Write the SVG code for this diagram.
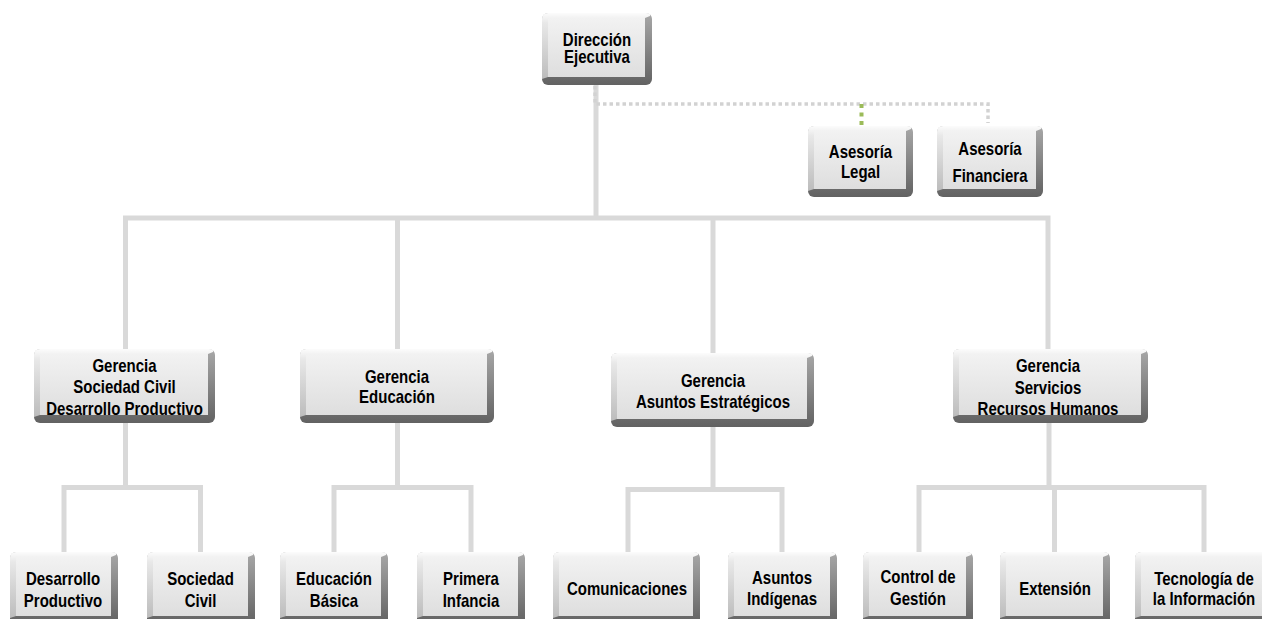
<svg xmlns="http://www.w3.org/2000/svg" width="1262" height="619" viewBox="0 0 1262 619">
  <defs>
    <linearGradient id="gBase" x1="0" y1="0" x2="0" y2="1">
      <stop offset="0" stop-color="#a8a8a8"/>
      <stop offset="1" stop-color="#626262"/>
    </linearGradient>
    <linearGradient id="gLight" x1="0" y1="0" x2="0" y2="1">
      <stop offset="0" stop-color="#fcfcfc"/>
      <stop offset="0.15" stop-color="#e8e8e8"/>
      <stop offset="1" stop-color="#bcbcbc"/>
    </linearGradient>
    <linearGradient id="gFace" x1="0" y1="0" x2="0" y2="1">
      <stop offset="0" stop-color="#f2f2f2"/>
      <stop offset="1" stop-color="#dedede"/>
    </linearGradient>
    <style>
      .base { fill: url(#gBase); }
      .lt { fill: url(#gLight); }
      .face { fill: url(#gFace); }
      .lbl { font-family: "Liberation Sans", Arial, sans-serif; font-weight: bold; font-size: 15px; fill: #000; text-anchor: middle; }
      .link { fill: none; stroke: #d9d9d9; stroke-width: 5; stroke-linejoin: miter; stroke-linecap: butt; }
      .dots { fill: none; stroke: #d2d2d2; stroke-width: 3.5; stroke-dasharray: 3.5 3; }
      .dots-green { fill: none; stroke: #9bbb59; stroke-width: 4; stroke-dasharray: 4 4.5; }
    </style>
  </defs>

  <rect width="1262" height="619" fill="#ffffff"/>

  <!-- connectors -->
  <g id="connectors">
    <path class="link" d="M596,85 V218"/>
    <path class="link" d="M125.5,349 V218 H1048 V349"/>
    <path class="link" d="M397.5,218 V349"/>
    <path class="link" d="M713,218 V353"/>
    <!-- Gerencia Sociedad Civil / Desarrollo Productivo -->
    <path class="link" d="M125.5,423 V487.5"/>
    <path class="link" d="M64,552 V487.5 H200.5 V552"/>
    <!-- Gerencia Educación -->
    <path class="link" d="M397.5,423 V487.5"/>
    <path class="link" d="M334,552 V487.5 H471 V552"/>
    <!-- Gerencia Asuntos Estratégicos -->
    <path class="link" d="M713,427 V489.5"/>
    <path class="link" d="M628,552 V489.5 H782 V552"/>
    <!-- Gerencia Servicios -->
    <path class="link" d="M1049,423 V487.5"/>
    <path class="link" d="M919,552 V487.5 H1204 V552"/>
    <path class="link" d="M1054.5,487.5 V552"/>
    <!-- advisory (staff) lines -->
    <path class="dots" d="M595,86 V104 H988 V123"/>
    <path class="dots-green" d="M861.5,104 V126"/>
  </g>

  <!-- Dirección Ejecutiva -->
  <g id="n-direccion" transform="translate(542 13)">
    <rect class="base" width="110" height="72" rx="6"/>
    <path class="lt" d="M0,66 V6 Q0,0 6,0 H104 Q109,0 108,3 L103,5 H6 V64 Z"/>
    <rect class="face" x="6" y="5" width="97" height="59"/>
    <text class="lbl" transform="matrix(1 0 0 1.22 55 32.7)">Dirección</text>
    <text class="lbl" transform="matrix(1 0 0 1.22 55 50.3)">Ejecutiva</text>
  </g>

  <!-- Asesoría Legal -->
  <g id="n-asesoria-legal" transform="translate(808 126)">
    <rect class="base" width="105" height="71" rx="6"/>
    <path class="lt" d="M0,65 V6 Q0,0 6,0 H99 Q104,0 103,3 L98,5 H6 V63 Z"/>
    <rect class="face" x="6" y="5" width="92" height="58"/>
    <text class="lbl" transform="matrix(1 0 0 1.22 52.5 32.3)">Asesoría</text>
    <text class="lbl" transform="matrix(1 0 0 1.22 52.5 51.7)">Legal</text>
  </g>

  <!-- Asesoría Financiera -->
  <g id="n-asesoria-financiera" transform="translate(937 126)">
    <rect class="base" width="106" height="71" rx="6"/>
    <path class="lt" d="M0,65 V6 Q0,0 6,0 H100 Q105,0 104,3 L99,5 H6 V63 Z"/>
    <rect class="face" x="6" y="5" width="93" height="58"/>
    <text class="lbl" transform="matrix(1 0 0 1.22 53 29)">Asesoría</text>
    <text class="lbl" transform="matrix(1 0 0 1.22 53 55.7)">Financiera</text>
  </g>

  <!-- Gerencia Sociedad Civil / Desarrollo Productivo -->
  <g id="n-gerencia-sociedad" transform="translate(34 349)">
    <rect class="base" width="181" height="74" rx="6"/>
    <path class="lt" d="M0,68 V6 Q0,0 6,0 H175 Q180,0 179,3 L174,5 H6 V66 Z"/>
    <rect class="face" x="6" y="5" width="168" height="61"/>
    <text class="lbl" transform="matrix(1 0 0 1.22 90.5 23.3)">Gerencia</text>
    <text class="lbl" transform="matrix(1 0 0 1.22 90.5 44.3)">Sociedad Civil</text>
    <text class="lbl" transform="matrix(1 0 0 1.22 90.5 66)">Desarrollo Productivo</text>
  </g>

  <!-- Gerencia Educación -->
  <g id="n-gerencia-educacion" transform="translate(300 349)">
    <rect class="base" width="194" height="74" rx="6"/>
    <path class="lt" d="M0,68 V6 Q0,0 6,0 H188 Q193,0 192,3 L187,5 H6 V66 Z"/>
    <rect class="face" x="6" y="5" width="181" height="61"/>
    <text class="lbl" transform="matrix(1 0 0 1.22 97 34.3)">Gerencia</text>
    <text class="lbl" transform="matrix(1 0 0 1.22 97 54.3)">Educación</text>
  </g>

  <!-- Gerencia Asuntos Estratégicos -->
  <g id="n-gerencia-asuntos" transform="translate(611 353)">
    <rect class="base" width="203" height="74" rx="6"/>
    <path class="lt" d="M0,68 V6 Q0,0 6,0 H197 Q202,0 201,3 L196,5 H6 V66 Z"/>
    <rect class="face" x="6" y="5" width="190" height="61"/>
    <text class="lbl" transform="matrix(1 0 0 1.22 102 33.7)">Gerencia</text>
    <text class="lbl" transform="matrix(1 0 0 1.22 102 54.7)">Asuntos Estratégicos</text>
  </g>

  <!-- Gerencia Servicios / Recursos Humanos -->
  <g id="n-gerencia-servicios" transform="translate(953 349)">
    <rect class="base" width="195" height="74" rx="6"/>
    <path class="lt" d="M0,68 V6 Q0,0 6,0 H189 Q194,0 193,3 L188,5 H6 V66 Z"/>
    <rect class="face" x="6" y="5" width="182" height="61"/>
    <text class="lbl" transform="matrix(1 0 0 1.22 95 23.3)">Gerencia</text>
    <text class="lbl" transform="matrix(1 0 0 1.22 95 45)">Servicios</text>
    <text class="lbl" transform="matrix(1 0 0 1.22 95 66)">Recursos Humanos</text>
  </g>

  <!-- Desarrollo Productivo -->
  <g id="n-desarrollo" transform="translate(10 552)">
    <rect class="base" width="108" height="72" rx="6"/>
    <path class="lt" d="M0,66 V6 Q0,0 6,0 H102 Q107,0 106,3 L101,5 H6 V64 Z"/>
    <rect class="face" x="6" y="5" width="95" height="59"/>
    <text class="lbl" transform="matrix(1 0 0 1.22 53 33)">Desarrollo</text>
    <text class="lbl" transform="matrix(1 0 0 1.22 53 54.7)">Productivo</text>
  </g>

  <!-- Sociedad Civil -->
  <g id="n-sociedad" transform="translate(147 552)">
    <rect class="base" width="108" height="72" rx="6"/>
    <path class="lt" d="M0,66 V6 Q0,0 6,0 H102 Q107,0 106,3 L101,5 H6 V64 Z"/>
    <rect class="face" x="6" y="5" width="95" height="59"/>
    <text class="lbl" transform="matrix(1 0 0 1.22 53.5 33)">Sociedad</text>
    <text class="lbl" transform="matrix(1 0 0 1.22 53.5 54.7)">Civil</text>
  </g>

  <!-- Educación Básica -->
  <g id="n-educacion-basica" transform="translate(280 552)">
    <rect class="base" width="108" height="72" rx="6"/>
    <path class="lt" d="M0,66 V6 Q0,0 6,0 H102 Q107,0 106,3 L101,5 H6 V64 Z"/>
    <rect class="face" x="6" y="5" width="95" height="59"/>
    <text class="lbl" transform="matrix(1 0 0 1.22 54 33)">Educación</text>
    <text class="lbl" transform="matrix(1 0 0 1.22 54 54.7)">Básica</text>
  </g>

  <!-- Primera Infancia -->
  <g id="n-primera-infancia" transform="translate(417 552)">
    <rect class="base" width="108" height="72" rx="6"/>
    <path class="lt" d="M0,66 V6 Q0,0 6,0 H102 Q107,0 106,3 L101,5 H6 V64 Z"/>
    <rect class="face" x="6" y="5" width="95" height="59"/>
    <text class="lbl" transform="matrix(1 0 0 1.22 54 33)">Primera</text>
    <text class="lbl" transform="matrix(1 0 0 1.22 54 54.7)">Infancia</text>
  </g>

  <!-- Comunicaciones -->
  <g id="n-comunicaciones" transform="translate(553 552)">
    <rect class="base" width="147" height="72" rx="6"/>
    <path class="lt" d="M0,66 V6 Q0,0 6,0 H141 Q146,0 145,3 L140,5 H6 V64 Z"/>
    <rect class="face" x="6" y="5" width="134" height="59"/>
    <text class="lbl" transform="matrix(1 0 0 1.22 74 43)">Comunicaciones</text>
  </g>

  <!-- Asuntos Indígenas -->
  <g id="n-asuntos-indigenas" transform="translate(728 552)">
    <rect class="base" width="109" height="72" rx="6"/>
    <path class="lt" d="M0,66 V6 Q0,0 6,0 H103 Q108,0 107,3 L102,5 H6 V64 Z"/>
    <rect class="face" x="6" y="5" width="96" height="59"/>
    <text class="lbl" transform="matrix(1 0 0 1.22 54 32)">Asuntos</text>
    <text class="lbl" transform="matrix(1 0 0 1.22 54 53)">Indígenas</text>
  </g>

  <!-- Control de Gestión -->
  <g id="n-control-gestion" transform="translate(863 552)">
    <rect class="base" width="110" height="72" rx="6"/>
    <path class="lt" d="M0,66 V6 Q0,0 6,0 H104 Q109,0 108,3 L103,5 H6 V64 Z"/>
    <rect class="face" x="6" y="5" width="97" height="59"/>
    <text class="lbl" transform="matrix(1 0 0 1.22 55 31.3)">Control de</text>
    <text class="lbl" transform="matrix(1 0 0 1.22 55 53)">Gestión</text>
  </g>

  <!-- Extensión -->
  <g id="n-extension" transform="translate(1000 552)">
    <rect class="base" width="110" height="72" rx="6"/>
    <path class="lt" d="M0,66 V6 Q0,0 6,0 H104 Q109,0 108,3 L103,5 H6 V64 Z"/>
    <rect class="face" x="6" y="5" width="97" height="59"/>
    <text class="lbl" transform="matrix(1 0 0 1.22 55 43)">Extensión</text>
  </g>

  <!-- Tecnología de la Información -->
  <g id="n-tecnologia" transform="translate(1135 552)">
    <rect class="base" width="138" height="72" rx="6"/>
    <path class="lt" d="M0,66 V6 Q0,0 6,0 H132 Q137,0 136,3 L131,5 H6 V64 Z"/>
    <rect class="face" x="6" y="5" width="125" height="59"/>
    <text class="lbl" transform="matrix(1 0 0 1.22 69 33)">Tecnología de</text>
    <text class="lbl" transform="matrix(1 0 0 1.22 69 53)">la Información</text>
  </g>
</svg>
